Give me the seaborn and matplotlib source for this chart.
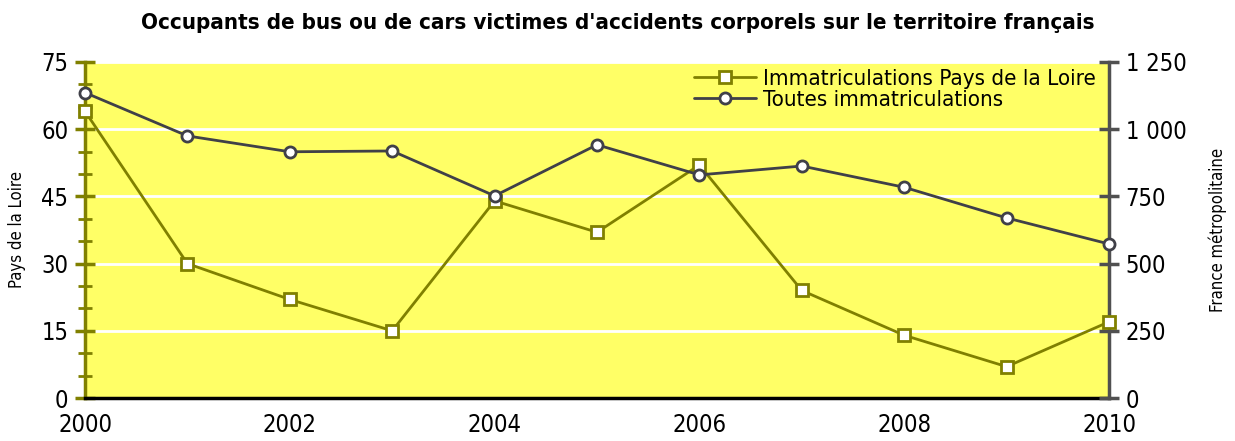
import matplotlib
matplotlib.use("Agg")
import matplotlib.pyplot as plt
import seaborn as sns
import pandas as pd
from matplotlib.ticker import MultipleLocator, FuncFormatter
from matplotlib.lines import Line2D

years = [2000, 2001, 2002, 2003, 2004, 2005, 2006, 2007, 2008, 2009, 2010]
pays_de_la_loire = [64, 30, 22, 15, 44, 37, 52, 24, 14, 7, 17]
toutes = [1136, 975, 916, 919, 752, 942, 830, 863, 784, 670, 573]
label_pdl = "Immatriculations Pays de la Loire"
label_all = "Toutes immatriculations"
title = "Occupants de bus ou de cars victimes d'accidents corporels sur le territoire français"

sns.set_style("white")
plt.rcParams['font.family'] = ['DejaVu Sans']
plt.rcParams['font.stretch'] = 'condensed'
for k in ("text.color", "axes.labelcolor", "xtick.color", "ytick.color"):
    plt.rcParams[k] = "black"

OLIVE = "#808000"
DARK = "#404048"
YELLOW = "#FFFF66"

df = pd.DataFrame({"year": years, "pdl": pays_de_la_loire, "all": toutes})

fig = plt.figure(figsize=(12.35, 4.41), dpi=100)
ax = fig.add_axes([85/1235, 1 - 398/441, (1109-85)/1235, (398-62)/441])
ax2 = ax.twinx()

ax.set_facecolor(YELLOW)
ax.set_zorder(ax2.get_zorder() - 1)
ax2.patch.set_visible(False)

sns.lineplot(data=df, x="year", y="pdl", ax=ax2, color=OLIVE, linewidth=2,
             marker="s", markersize=8, markerfacecolor="white",
             markeredgecolor=OLIVE, markeredgewidth=2, zorder=3, clip_on=False)
sns.lineplot(data=df, x="year", y="all", ax=ax2, color=DARK, linewidth=2,
             marker="o", markersize=8, markerfacecolor="white",
             markeredgecolor=DARK, markeredgewidth=2, zorder=4, clip_on=False)
# the Pays de la Loire series belongs to the left scale
for ln in ax2.lines[:1]:
    ln.set_transform(ax.transData)

ax.set_xlim(2000, 2010)
ax.set_ylim(0, 75)
ax2.set_ylim(0, 1250)

ax.yaxis.set_major_locator(MultipleLocator(15))
ax.yaxis.set_minor_locator(MultipleLocator(5))
ax2.yaxis.set_major_locator(MultipleLocator(250))
ax.xaxis.set_major_locator(MultipleLocator(2))
ax.xaxis.set_minor_locator(MultipleLocator(1))

ax.grid(axis="y", which="major", color="white", linewidth=2)
ax.set_axisbelow(True)

for a in (ax, ax2):
    for s in a.spines.values():
        s.set_visible(False)
ax.spines["left"].set_visible(True)
ax.spines["left"].set_color(OLIVE)
ax.spines["left"].set_linewidth(2.5)
ax.spines["bottom"].set_visible(True)
ax.spines["bottom"].set_color("black")
ax.spines["bottom"].set_linewidth(2.5)
ax2.spines["right"].set_visible(True)
ax2.spines["right"].set_color("#505050")
ax2.spines["right"].set_linewidth(2.5)

ax.tick_params(axis="y", which="major", direction="inout", length=14, width=2.5,
               color=OLIVE, labelsize=17, pad=5)
ax.tick_params(axis="y", which="minor", direction="inout", length=10, width=2,
               color=OLIVE)
ax.tick_params(axis="x", which="both", direction="inout", length=12, width=2,
               color="black", labelsize=17, pad=5)
ax2.tick_params(axis="y", which="major", direction="inout", length=14, width=2.5,
                color="#505050", labelsize=17, pad=5)

ax2.yaxis.set_major_formatter(FuncFormatter(lambda v, p: f"{int(v):,}".replace(",", " ")))

ax.set_xlabel("")
ax2.set_xlabel("")
ax.set_ylabel("Pays de la Loire", fontsize=12)
ax2.set_ylabel("France métropolitaine", fontsize=12, rotation=90)
ax.yaxis.set_label_coords(-0.066, 0.5)
ax2.yaxis.set_label_coords(1.106, 0.5)
ax2.yaxis.label.set_verticalalignment("center")
ax.yaxis.label.set_verticalalignment("center")

fig.suptitle(title, fontsize=16, fontweight="bold", y=0.97)

handles = [
    Line2D([], [], color=OLIVE, linewidth=2, marker="s", markersize=8,
           markerfacecolor="white", markeredgecolor=OLIVE, markeredgewidth=2),
    Line2D([], [], color=DARK, linewidth=2, marker="o", markersize=8,
           markerfacecolor="white", markeredgecolor=DARK, markeredgewidth=2),
]
leg = ax2.legend(handles, [label_pdl, label_all], loc="upper right",
                 bbox_to_anchor=(1.0, 1.02), frameon=False, fontsize=16,
                 handlelength=2.8, handletextpad=0.3, labelspacing=0.05,
                 borderaxespad=0.2)

fig.savefig("out.png", dpi=100)
